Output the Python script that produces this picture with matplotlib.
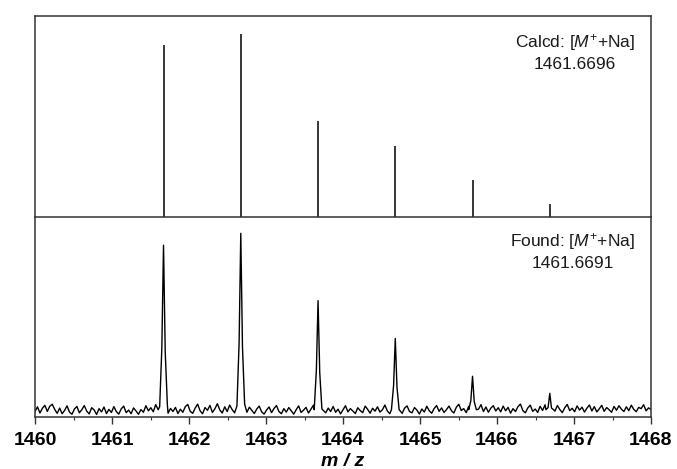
import numpy as np
import matplotlib
matplotlib.use("Agg")
import matplotlib.pyplot as plt
from matplotlib.ticker import MultipleLocator

plt.rcParams['font.family'] = ['Liberation Sans', 'DejaVu Sans']
plt.rcParams['mathtext.fontset'] = 'custom'
plt.rcParams['mathtext.rm'] = 'Liberation Sans'
plt.rcParams['mathtext.it'] = 'Liberation Sans:italic'
plt.rcParams['mathtext.bf'] = 'Liberation Sans:bold'

# ---- data ----
calcd_mz = [1461.6696, 1462.6730, 1463.6763, 1464.6795, 1465.6826, 1466.6857]
calcd_int = [94.0, 100.0, 52.5, 38.8, 20.2, 7.1]

found_mz = [1461.6691, 1462.6725, 1463.6760, 1464.6790, 1465.6822, 1466.6855]
found_int = [94.5, 101.0, 64.0, 43.2, 22.4, 13.0]

noise = [3.0,5.6,2.2,4.8,6.4,3.1,5.9,7.0,4.2,2.0,
         4.9,1.8,3.6,6.1,2.7,1.5,4.4,5.8,2.3,4.0,
         6.3,3.2,1.7,5.1,3.9,1.4,4.6,2.8,5.5,1.9,
         4.2,2.5,5.7,3.0,1.6,4.5,6.0,2.4,3.8,1.8,
         5.0,3.3,1.5,4.1,2.6,6.2,3.4,5.1,2.9,6.8,
         4.0,7.2,3.6,5.4,2.1,4.7,3.0,5.3,1.9,4.3,
         2.6,5.7,6.9,3.1,2.0,4.9,7.1,3.4,1.8,5.2,
         3.7,6.4,2.5,4.5,7.3,3.9,2.2,5.6,3.0,6.6,
         4.1,2.3,5.0,3.2,1.7,4.8,2.6,5.4,3.6,1.9,
         4.4,6.0,2.8,1.6,3.9,5.5,2.4,4.7,6.3,3.0,
         1.8,4.6,2.7,5.2,3.4,1.6,4.0,6.1,2.5,3.8,
         5.3,2.2,4.4,6.5,3.1,1.9,5.0,3.6,2.3,4.9,
         3.0,5.8,2.6,4.3,1.7,3.9,6.2,2.8,4.6,3.3,
         1.9,5.1,3.5,2.4,6.0,4.2,2.1,4.8,3.2,5.6,
         2.7,4.0,6.6,3.3,1.8,4.5,2.9,5.3,3.7,2.0,
         4.9,6.1,3.0,2.3,5.2,3.8,1.6,4.4,2.7,5.9,
         3.4,2.1,4.7,6.3,3.1,5.0,2.5,4.1,6.0,3.5,
         2.2,5.4,7.0,3.6,4.6,2.4,5.8,3.2,6.4,2.7,
         4.3,6.8,3.0,5.5,2.6,4.9,6.2,3.3,5.1,2.8,
         6.0,3.4,5.3,2.1,4.6,3.0,5.7,7.1,3.5,2.3,
         5.0,6.5,3.1,4.4,2.5,5.9,3.6,6.7,4.0,2.6,
         5.5,3.2,6.3,4.1,2.4,5.1,6.9,3.5,4.8,2.9,
         6.1,3.8,5.4,2.7,4.9,6.6,3.3,5.7,2.8,4.5,
         6.4,3.1,5.2,4.0,2.6,5.8,3.7,6.2,4.3,3.0,
         5.6,3.5,6.5,4.2,2.9,5.3,4.6,6.8,3.4,5.0,
         4.2]

# peak profile shape (offsets in m/z, fraction of peak height)
peak_dx = [-0.05, -0.022, 0.0, 0.022, 0.05]
peak_frac = [0.06, 0.40, 1.0, 0.38, 0.07]

xticks = [1460, 1461, 1462, 1463, 1464, 1465, 1466, 1467, 1468]
calcd_label = r"Calcd: [$\mathit{M}^{+}$+Na]" + "\n1461.6696"
found_label = r"Found: [$\mathit{M}^{+}$+Na]" + "\n1461.6691"

# ---- build found spectrum ----
noise_mz = np.linspace(1460, 1468, len(noise))
pts = []
for x, y in zip(noise_mz, noise):
    if min(abs(x - c) for c in found_mz) > 0.05:
        pts.append((x, y))
for c, h in zip(found_mz, found_int):
    for dx, f in zip(peak_dx, peak_frac):
        pts.append((c + dx, max(f * h, 4.0)))
pts.sort()
sx = [p[0] for p in pts]
sy = [p[1] for p in pts]

# ---- figure ----
fig = plt.figure(figsize=(6.77, 4.69), dpi=100)
L, W = 35 / 677, 616 / 677
ax1 = fig.add_axes([L, 1 - 217 / 469, W, 201 / 469])
ax2 = fig.add_axes([L, 1 - 417 / 469, W, 200 / 469])

frame_c = '#333333'
for ax in (ax1, ax2):
    ax.set_xlim(1460, 1468)
    ax.set_ylim(0, 110)
    ax.set_yticks([])
    for s in ax.spines.values():
        s.set_color(frame_c)
        s.set_linewidth(1.1)

ax1.vlines(calcd_mz, 0, calcd_int, color='black', linewidth=1.1)
ax1.set_xticks([])
ax1.spines['bottom'].set_visible(False)

ax2.plot(sx, sy, color='black', linewidth=1.0)
ax2.set_xticks(xticks)
ax2.set_xticklabels([str(t) for t in xticks], fontsize=14, fontweight='bold')
ax2.xaxis.set_minor_locator(MultipleLocator(0.5))
ax2.tick_params(axis='x', which='major', direction='out', length=5, width=1.0, color=frame_c, pad=6)
ax2.tick_params(axis='x', which='minor', direction='out', length=2.5, width=0.8, color=frame_c)
ax2.set_xlabel("m / z", fontsize=14, fontweight='bold', fontstyle='italic', labelpad=3)

ax1.text(0.877, 0.82, calcd_label, transform=ax1.transAxes, ha='center', va='center',
         fontsize=12.5, linespacing=1.35, color='#1a1a1a')
ax2.text(0.873, 0.83, found_label, transform=ax2.transAxes, ha='center', va='center',
         fontsize=12.5, linespacing=1.35, color='#1a1a1a')

fig.savefig("out.png", dpi=100)
